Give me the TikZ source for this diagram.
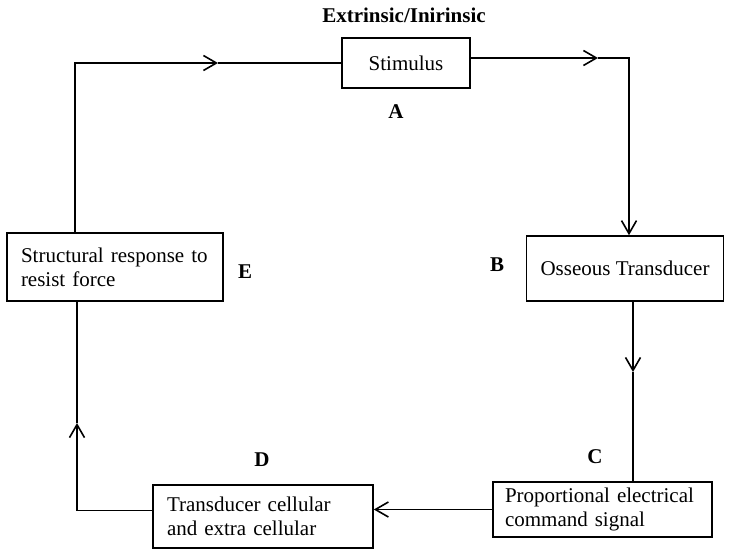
\documentclass[tikz,border=0pt]{standalone}
\usepackage{fontspec}
\setmainfont{Liberation Serif}
\usetikzlibrary{arrows.meta}
\begin{document}
\begin{tikzpicture}[x=1pt,y=-1pt,
  box/.style={draw, line width=1.6pt, inner xsep=14pt, inner ysep=0pt, font=\fontsize{21}{24}\selectfont},
  lab/.style={font=\fontsize{21}{24}\selectfont\bfseries},
  conn/.style={line width=1.6pt},
  tip/.style={-{Straight Barb[length=13pt,width=15pt]}}]
\useasboundingbox (0,0) rectangle (730,551);
% boxes
\node[box, minimum width=128pt, minimum height=50pt, align=center] (A) at (406,63) {Stimulus};
\node[box, minimum width=194pt, minimum height=65pt, align=center] (B) at (625,268.5) {Osseous Transducer};
\node[box, minimum width=219pt, minimum height=55pt, inner xsep=12pt, text width=195pt, align=left] (C) at (602.5,509.5) {\mbox{Proportional electrical}\\command signal};
\node[box, minimum width=220pt, minimum height=63pt, text width=192pt, align=left] (D) at (263,516.5) {\mbox{Transducer cellular}\\\mbox{and extra cellular}};
\node[box, minimum width=216pt, minimum height=68pt, text width=188pt, align=left] (E) at (115,267) {\mbox{Structural response to}\\resist force};
% labels
\node[lab] (title) at (404,15) {Extrinsic/Inirinsic};
\node[lab] (la) at (396,112) {A};
\node[lab] (lb) at (497,265) {B};
\node[lab] (lc) at (595,457) {C};
\node[lab] (ld) at (262,460) {D};
\node[lab] (le) at (245,272) {E};
% connectors
\coordinate (a1) at (218,63);
\coordinate (b1) at (598,58);
\coordinate (c1) at (633,372);
\coordinate (e1) at (77,423);
\draw[conn,tip] ([xshift=-40pt]E.north) |- (a1);
\draw[conn] (a1) -- (A.west);
\draw[conn,tip] ([yshift=5pt]A.east) -- (b1);
\draw[conn,tip] (b1) -| ([xshift=4pt]B.north);
\draw[conn,tip] ([xshift=8pt]B.south) -- (c1);
\draw[conn] (c1) -- (c1 |- C.north);
\draw[conn,tip] (C.west) -- (C.west -| D.east);
\draw[conn,tip] ([yshift=6pt]D.west) -| (e1);
\draw[conn] (e1) -- (e1 |- E.south);
\end{tikzpicture}
\end{document}
